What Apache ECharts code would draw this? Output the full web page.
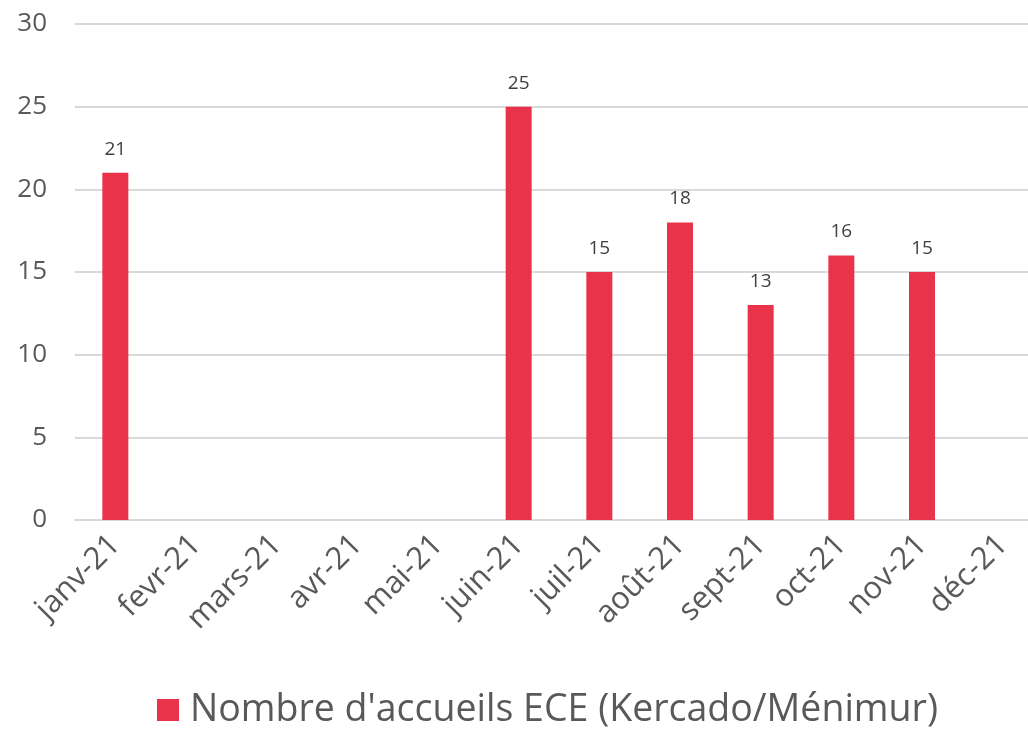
<!DOCTYPE html>
<html>
<head>
<meta charset="utf-8">
<script src="https://cdn.jsdelivr.net/npm/echarts@6/dist/echarts.min.js"></script>
<style>
html, body { margin: 0; padding: 0; background: #fff; overflow: hidden; width: 1028px; height: 734px; }
#chart { width: 1043px; height: 734px; }
</style>
</head>
<body>
<div id="chart"></div>
<script>
const months = ['janv-21', 'fevr-21', 'mars-21', 'avr-21', 'mai-21', 'juin-21', 'juil-21', 'août-21', 'sept-21', 'oct-21', 'nov-21', 'déc-21']
const accueils = [21, null, null, null, null, 25, 15, 18, 13, 16, 15, null]
const seriesName = "Nombre d'accueils ECE (Kercado/Ménimur)"

const myChart = echarts.init(document.getElementById('chart'))
myChart.setOption({
    animation: false,
    textStyle: { fontFamily: 'Open Sans' },
    grid: { left: 75, right: 0, top: 24, bottom: 214, containLabel: false },
    legend: {
        bottom: 0,
        left: 152,
        itemWidth: 22,
        itemHeight: 22,
        icon: 'rect',
        textStyle: { fontSize: 37.5, color: '#595959', fontFamily: 'Open Sans', padding: [0, 0, 0, 6] },
        data: [seriesName]
    },
    xAxis: {
        type: 'category',
        data: months,
        axisLine: { lineStyle: { color: '#d9d9d9', width: 2 } },
        axisTick: { show: false },
        axisLabel: { rotate: 45, fontSize: 31, color: '#595959', margin: 20, interval: 0 }
    },
    yAxis: {
        type: 'value',
        min: 0,
        max: 30,
        interval: 5,
        axisLine: { show: false },
        axisTick: { show: false },
        axisLabel: { fontSize: 26, color: '#595959', margin: 28 },
        splitLine: { lineStyle: { color: '#d9d9d9', width: 2 } }
    },
    series: [{
        name: seriesName,
        type: 'bar',
        data: accueils,
        barWidth: 26,
        itemStyle: { color: '#e8334a' },
        label: { show: true, position: 'top', distance: 14, fontSize: 19, color: '#404040' }
    }]
})
</script>
</body>
</html>
